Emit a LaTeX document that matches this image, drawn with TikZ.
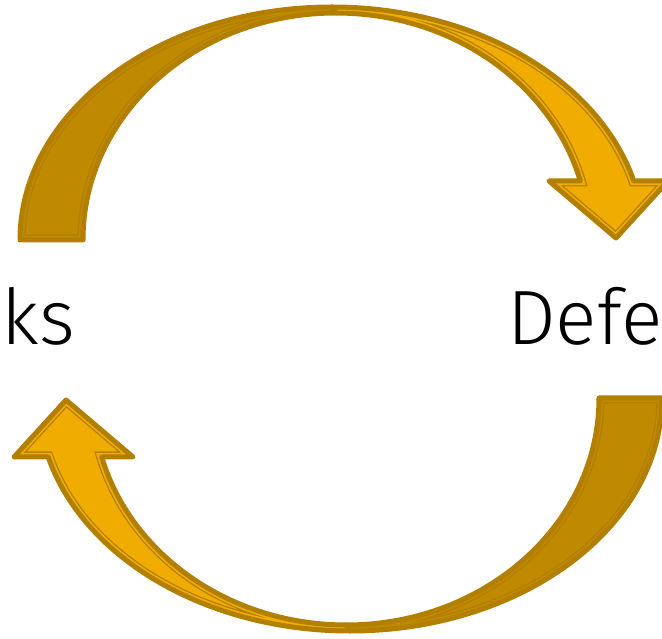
\documentclass[tikz,border=0pt]{standalone}
\usepackage{fontspec}
\setmainfont{Fira Sans}[UprightFont=* Light]
\definecolor{edgegold}{HTML}{B27F00}
\definecolor{darkgold}{HTML}{BF8900}
\definecolor{lightgold}{HTML}{F0AC00}
\newcommand{\darkpiece}{(20,398) arc[start angle=180,end angle=90,x radius=312,y radius=233] -- (336,625) arc[start angle=90,end angle=180,x radius=253,y radius=227] -- cycle}
\newcommand{\lightpiece}{(332,631) arc[start angle=90,end angle=14.67,x radius=312,y radius=233] -- (668,457) -- (616,400) -- (549,457) -- (580.3,457) arc[start angle=15.07,end angle=90,x radius=253,y radius=227] -- cycle}
\newcommand{\bandpiece}[2]{%
  \fill[#1] #2;
  \begin{scope}
    \clip #2;
    \draw[edgegold,line width=11pt] #2;
    \draw[#1,line width=8.4pt] #2;
  \end{scope}
  \draw[edgegold,line width=5pt,line join=round] #2;
}
\tikzset{label text/.style={inner sep=0pt,font=\fontsize{77}{92}\selectfont,text=black}}
\begin{document}
\begin{tikzpicture}[x=1pt,y=1pt]
\clip (0,0) rectangle (662,638);
\useasboundingbox (0,0) rectangle (662,638);
% top arrow
\bandpiece{lightgold}{\lightpiece}
\bandpiece{darkgold}{\darkpiece}
% bottom arrow (same shape turned half round)
\begin{scope}[rotate around={180:(341,319)}]
\bandpiece{lightgold}{\lightpiece}
\bandpiece{darkgold}{\darkpiece}
\end{scope}
\node[label text,anchor=base east] (attacks) at (75,293) {Attacks};
\node[label text,anchor=base west] (defense) at (507,293) {Defense};
\end{tikzpicture}
\end{document}
